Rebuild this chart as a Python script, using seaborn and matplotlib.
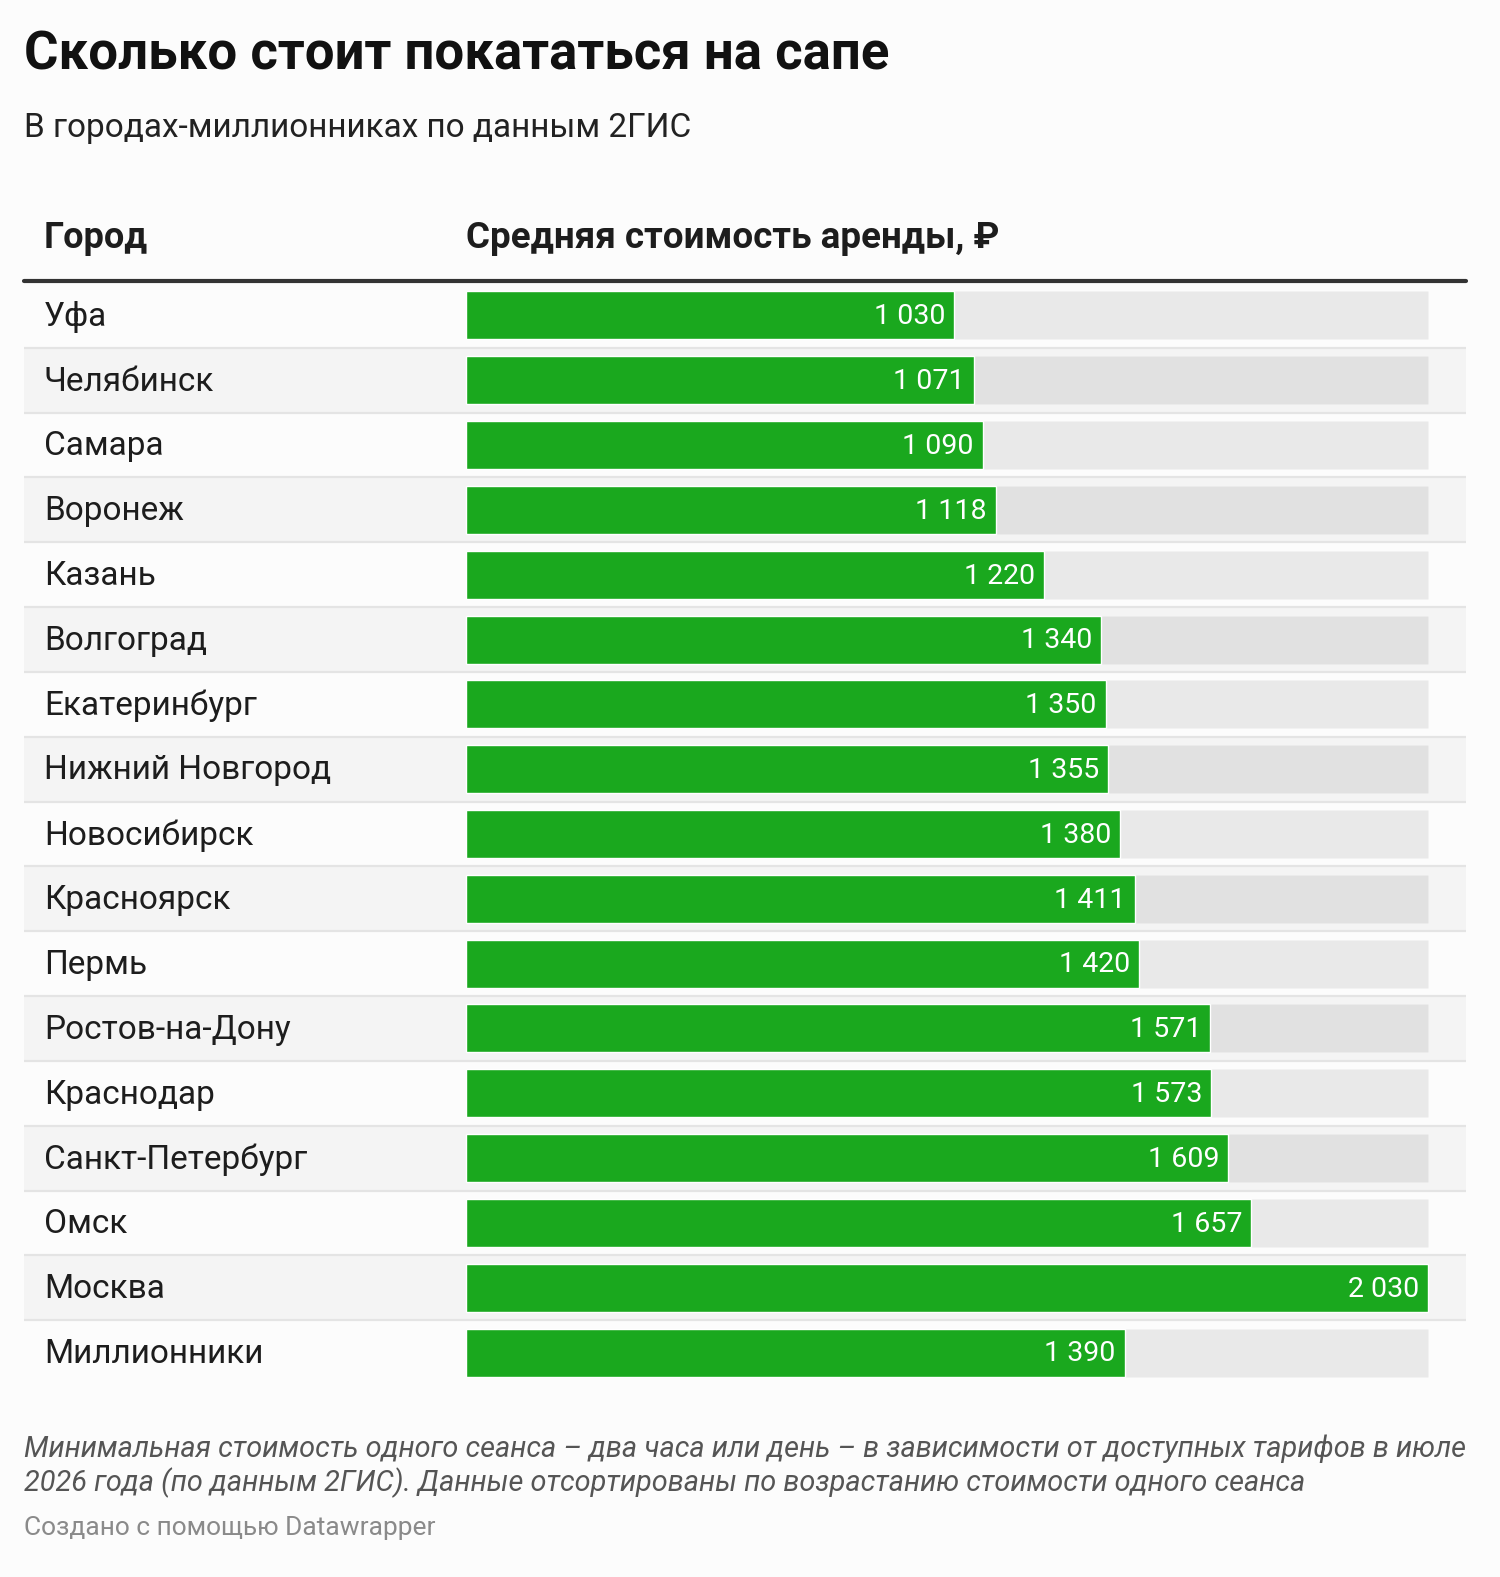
import pandas as pd
import matplotlib.pyplot as plt
import seaborn as sns


cities = [
    "Уфа", "Челябинск", "Самара", "Воронеж", "Казань", "Волгоград",
    "Екатеринбург", "Нижний Новгород", "Новосибирск", "Красноярск", "Пермь",
    "Ростов-на-Дону", "Краснодар", "Санкт-Петербург", "Омск", "Москва",
    "Миллионники",
]
prices = [1030, 1071, 1090, 1118, 1220, 1340, 1350, 1355, 1380, 1411, 1420,
          1571, 1573, 1609, 1657, 2030, 1390]

title = "Сколько стоит покататься на сапе"
subtitle = "В городах-миллионниках по данным 2ГИС"
col_city = "Город"
col_value = "Средняя стоимость аренды, ₽"
note = ("Минимальная стоимость одного сеанса – два часа или день – в зависимости от доступных тарифов в июле\n"
        "2026 года (по данным 2ГИС). Данные отсортированы по возрастанию стоимости одного сеанса")
credit = "Создано с помощью Datawrapper"

df = pd.DataFrame({"city": cities, "price": prices})
df["track"] = max(prices)

sns.set_theme(style="white")
plt.rcParams["font.family"] = ["Roboto", "DejaVu Sans"]

W, H = 1500, 1577
fig = plt.figure(figsize=(W / 100, H / 100), dpi=100, facecolor="#fcfcfc")

# table area in pixels
left, right, top, bottom = 24, 1466, 283, 1385
bar_x0, bar_x1 = 466, 1428
ax = fig.add_axes([left / W, 1 - bottom / H, (right - left) / W, (bottom - top) / H])
ax.set_facecolor("none")

vmax = max(prices)
k = vmax / (bar_x1 - bar_x0)
ax.set_xlim((left - bar_x0) * k, (right - bar_x0) * k)
n = len(cities)

# striped rows and separators
for i in range(n):
    if i % 2 == 1:
        ax.axhspan(i - 0.5, i + 0.5, color="#f4f4f4", zorder=0, lw=0)
    if i < n - 1:
        ax.axhline(i + 0.5, color="#e4e4e4", lw=1.6, zorder=1)

sns.barplot(data=df, x="track", y="city", orient="h", color="black", alpha=0.075,
            width=0.74, ax=ax, zorder=2, saturation=1)
sns.barplot(data=df, x="price", y="city", orient="h", color="#1aa81e",
            width=0.74, ax=ax, zorder=3, saturation=1)
ax.set_ylim(n - 0.5, -0.5)

for i, (c, p) in enumerate(zip(cities, prices)):
    ax.text((44 - bar_x0) * k, i + 0.02, c, ha="left", va="center", fontsize=24,
            color="#1d1d1d", zorder=4)
    lab = f"{p:,}".replace(",", " ")
    ax.text(p - 9 * k, i + 0.02, lab, ha="right", va="center", fontsize=20.5,
            color="white", zorder=4)

ax.set_axis_off()

# header
fig.text(24 / W, 1 - 55 / H, title, fontsize=38, fontweight="bold", color="#111111",
         va="center", ha="left")
fig.text(24 / W, 1 - 128 / H, subtitle, fontsize=24, color="#222222", va="center", ha="left")
fig.text(44 / W, 1 - 238 / H, col_city, fontsize=26, fontweight="bold", color="#1d1d1d",
         va="center", ha="left")
fig.text(466 / W, 1 - 238 / H, col_value, fontsize=26.5, fontweight="bold", color="#1d1d1d",
         va="center", ha="left")
fig.add_artist(plt.Line2D([left / W, right / W], [1 - 281 / H, 1 - 281 / H],
                          color="#333333", lw=3))

fig.text(24 / W, 1 - 1466 / H, note, fontsize=20.8, style="italic", color="#555555",
         va="center", ha="left", linespacing=1.2)
fig.text(24 / W, 1 - 1528 / H, credit, fontsize=19, color="#8a8a8a", va="center", ha="left")

fig.savefig("out.png", dpi=100, facecolor=fig.get_facecolor())
